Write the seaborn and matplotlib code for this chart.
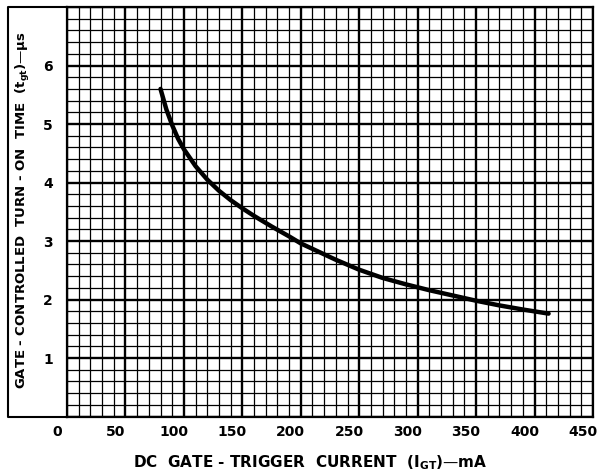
import matplotlib
matplotlib.use('Agg')
import matplotlib.pyplot as plt
from matplotlib.lines import Line2D
from matplotlib import transforms
import numpy as np
import seaborn as sns

# curve
igt_ma = [80, 85, 90, 95, 100, 110, 120, 130, 140, 150, 160, 175, 190, 200,
	215, 230, 250, 270, 290, 310, 330, 350, 370, 390, 412]
ton_us = [5.6, 5.25, 4.98, 4.75, 4.57, 4.28, 4.05, 3.86, 3.7, 3.56, 3.43, 3.25, 3.08, 2.96,
	2.82, 2.68, 2.51, 2.37, 2.26, 2.16, 2.07, 1.98, 1.9, 1.83, 1.76]

x_ticks = list(range(0, 451, 50))
y_ticks = list(range(0, 8))
y_tick_labels = ['', '1', '2', '3', '4', '5', '6', '']

x_label = 'DC  GATE - TRIGGER  CURRENT  (I$_{\\mathregular{GT}}$)—mA'
y_label = 'GATE - CONTROLLED  TURN - ON  TIME  (t$_{\\mathregular{gt}}$)—μs'


def px(x, y, W=599, H=472):
	return x / W, 1 - y / H


def main():
	sns.set_style('white')
	plt.rcParams['font.family'] = ['DejaVu Sans']
	plt.rcParams['text.color'] = 'black'
	plt.rcParams['xtick.color'] = 'black'
	plt.rcParams['ytick.color'] = 'black'

	fig = plt.figure(figsize=(5.99, 4.72), dpi=100)
	left, top = px(67, 7)
	right, bottom = px(593, 416.6)
	ax = fig.add_axes([left, bottom, right - left, top - bottom])

	sns.lineplot(x=igt_ma, y=ton_us, ax=ax, color='black', lw=3.2, zorder=5)

	ax.set_xlim(0, 450)
	ax.set_ylim(0, 7)
	ax.set_xticks(x_ticks)
	ax.set_xticks(np.arange(0, 451, 10), minor=True)
	ax.set_yticks(y_ticks)
	ax.set_yticks(np.arange(0, 7.01, 0.2), minor=True)
	ax.set_yticklabels(y_tick_labels)

	ax.grid(which='major', color='black', lw=1.7)
	ax.grid(which='minor', color='black', lw=0.9)
	ax.set_axisbelow(True)
	for s in ax.spines.values():
		s.set_color('black')
		s.set_linewidth(1.6)

	ax.tick_params(which='both', length=0)
	ax.tick_params(axis='x', pad=6, labelsize=10)
	ax.tick_params(axis='y', pad=10, labelsize=10)
	for lab in ax.get_xticklabels() + ax.get_yticklabels():
		lab.set_fontweight('bold')

	# the scan puts the x labels a bit left of their lines
	off = transforms.ScaledTranslation(-10 / 100, 0, fig.dpi_scale_trans)
	for lab in ax.get_xticklabels():
		lab.set_transform(lab.get_transform() + off)

	ax.set_xlabel('')
	ax.set_ylabel('')

	# outer frame around the y label area
	x0, y0 = px(8, 7)
	x1, y1 = px(67, 416.6)
	fig.add_artist(Line2D([x1, x0, x0, x1], [y0, y0, y1, y1],
		transform=fig.transFigure, color='black', lw=1.5))

	fig.text(*px(310, 463), x_label, ha='center', va='center', fontsize=11,
		fontweight='bold')
	fig.text(*px(23, 210), y_label, ha='center', va='center', rotation=90,
		fontsize=9.5, fontweight='bold')

	fig.savefig('out.png', dpi=100)


if __name__ == '__main__':
	main()
